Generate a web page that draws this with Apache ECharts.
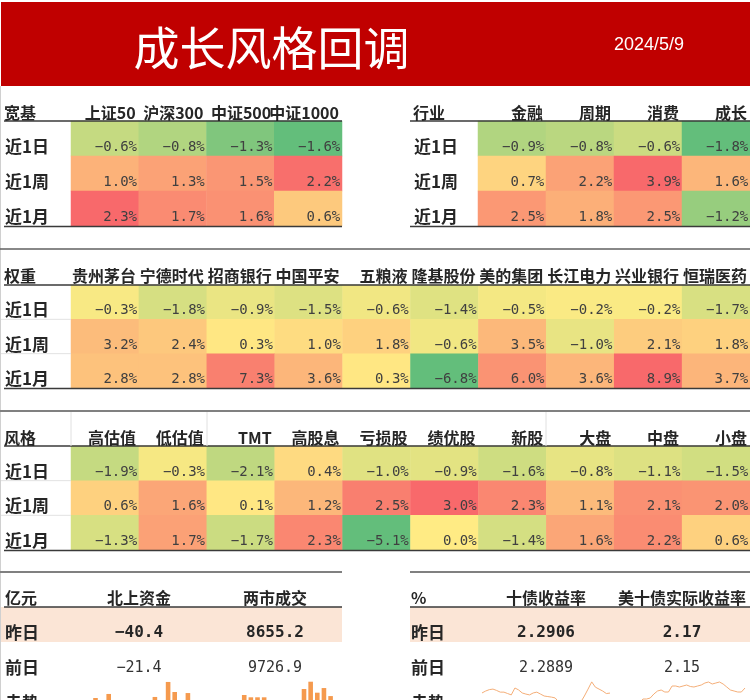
<!DOCTYPE html>
<html><head><meta charset="utf-8">
<script src="https://cdn.jsdelivr.net/npm/echarts@6/dist/echarts.min.js"></script>
<style>html,body{margin:0;padding:0;background:#fff}#c{width:750px;height:700px}</style>
</head><body><div id="c"></div>
<script>
// ---------- data ----------
const titleText = '成长风格回调';
const dateText = '2024/5/9';
const periods = ['近1日', '近1周', '近1月'];

const broadCats = ['上证50', '沪深300', '中证500', '中证1000'];
const broadVals = [[-0.6, -0.8, -1.3, -1.6], [1.0, 1.3, 1.5, 2.2], [2.3, 1.7, 1.6, 0.6]];

const industryCats = ['金融', '周期', '消费', '成长'];
const industryVals = [[-0.9, -0.8, -0.6, -1.8], [0.7, 2.2, 3.9, 1.6], [2.5, 1.8, 2.5, -1.2]];

const weightCats = ['贵州茅台', '宁德时代', '招商银行', '中国平安', '五粮液', '隆基股份', '美的集团', '长江电力', '兴业银行', '恒瑞医药'];
const weightVals = [
  [-0.3, -1.8, -0.9, -1.5, -0.6, -1.4, -0.5, -0.2, -0.2, -1.7],
  [3.2, 2.4, 0.3, 1.0, 1.8, -0.6, 3.5, -1.0, 2.1, 1.8],
  [2.8, 2.8, 7.3, 3.6, 0.3, -6.8, 6.0, 3.6, 8.9, 3.7]];

const styleCats = ['高估值', '低估值', 'TMT', '高股息', '亏损股', '绩优股', '新股', '大盘', '中盘', '小盘'];
const styleVals = [
  [-1.9, -0.3, -2.1, 0.4, -1.0, -0.9, -1.6, -0.8, -1.1, -1.5],
  [0.6, 1.6, 0.1, 1.2, 2.5, 3.0, 2.3, 1.1, 2.1, 2.0],
  [-1.3, 1.7, -1.7, 2.3, -5.1, 0.0, -1.4, 1.6, 2.2, 0.6]];

const flowUnit = '亿元';
const flowCats = ['北上资金', '两市成交'];
const flowYesterday = [-40.4, 8655.2];
const flowPrev = [-21.4, 9726.9];
const bondUnit = '%';
const bondCats = ['十债收益率', '美十债实际收益率'];
const bondYesterday = [2.2906, 2.17];
const bondPrev = [2.2889, 2.15];
const summaryRows = ['昨日', '前日', '走势'];

const northTrend = [40, 15, 67, -12, 22, -25, 8, -18, 20, 47, 12, 147, 80, 18, 73, -21.4, -40.4];
const turnoverTrend = [8800, 8493, 8493, 8493, 7900, 7600, 7300, 7700, 8000, 9600, 10573, 9107, 9726.9, 8655.2];
const cgbTrend = [2.291, 2.298, 2.303, 2.305, 2.300, 2.294, 2.294, 2.289, 2.284, 2.309, 2.302, 2.291, 2.287, 2.284, 2.291, 2.294, 2.287, 2.280, 2.278, 2.276, 2.273, 2.258, 2.244, 2.229, 2.222, 2.225, 2.236, 2.258, 2.280, 2.305, 2.331, 2.312, 2.305, 2.298, 2.2889, 2.2906];
const tipsTrend = [2.05, 2.07, 2.09, 2.115, 2.115, 2.12, 2.14, 2.155, 2.16, 2.15, 2.15, 2.18, 2.18, 2.175, 2.18, 2.185, 2.1775, 2.175, 2.18, 2.185, 2.195, 2.20, 2.19, 2.195, 2.20, 2.19, 2.175, 2.16, 2.155, 2.15, 2.15, 2.17];

// ---------- helpers ----------
const GREEN = [99, 190, 123], YELLOW = [255, 235, 132], RED = [248, 105, 107];
function mix(a, b, t) { return 'rgb(' + a.map((c, i) => Math.round(c + (b[i] - c) * t)).join(',') + ')'; }
function colorFor(v, mn, mx) {
  if (v < 0) return mix(YELLOW, GREEN, mn < 0 ? v / mn : 0);
  return mix(YELLOW, RED, mx > 0 ? v / mx : 0);
}
const CJK = '"Noto Sans CJK SC", sans-serif';
const MONO = '"DejaVu Sans Mono", monospace';
const TXT = '#262626';

const chart = echarts.init(document.getElementById('c'), null, { renderer: 'canvas' });

const grids = [], xAxes = [], yAxes = [], series = [], graphics = [];

function text(str, x, y, font, align, color) {
  graphics.push({
    type: 'text', z: 20, silent: true,
    style: { text: str, x: x, y: y, font: font, textAlign: align || 'left', textVerticalAlign: 'middle', fill: color || TXT }
  });
}
function hline(x1, x2, y, color, w) {
  graphics.push({ type: 'line', z: 15, silent: true, shape: { x1: x1, y1: y, x2: x2, y2: y }, style: { stroke: color, lineWidth: w } });
}
function vline(x, y1, y2, color, w) {
  graphics.push({ type: 'line', z: 15, silent: true, shape: { x1: x, y1: y1, x2: x, y2: y2 }, style: { stroke: color, lineWidth: w } });
}
function rect(x, y, w, h, color, z) {
  graphics.push({ type: 'rect', z: z || 1, silent: true, shape: { x: x, y: y, width: w, height: h }, style: { fill: color } });
}

// header band
rect(1, 2, 749, 84, '#C00000', 1);
text(titleText, 271.5, 48, 'normal 46px ' + CJK, 'center', '#ffffff');
text(dateText, 614, 45, 'normal 18px "Liberation Sans", Arial, sans-serif', 'left', '#ffffff');
vline(0.5, 86, 700, '#d0d0d0', 1);

// heat tables
const tables = [
  { name: '宽基', cats: broadCats, vals: broadVals, left: 71, width: 271, top: 121, height: 105, headY: 113, nameX: 4, lineX1: 4, lineX2: 342 },
  { name: '行业', cats: industryCats, vals: industryVals, left: 478, width: 272, top: 121, height: 105, headY: 113, nameX: 413, lineX1: 410, lineX2: 750 },
  { name: '权重', cats: weightCats, vals: weightVals, left: 71, width: 679, top: 285, height: 103, headY: 275.5, nameX: 4, lineX1: 4, lineX2: 750 },
  { name: '风格', cats: styleCats, vals: styleVals, left: 71, width: 679, top: 446, height: 104, headY: 437.5, nameX: 4, lineX1: 4, lineX2: 750 }
];

tables.forEach((t, k) => {
  const flat = t.vals.flat();
  const mn = Math.min.apply(null, flat), mx = Math.max.apply(null, flat);
  grids.push({ left: t.left, top: t.top, width: t.width, height: t.height });
  xAxes.push({ type: 'category', gridIndex: k, data: t.cats, show: false });
  yAxes.push({ type: 'category', gridIndex: k, data: periods, inverse: true, show: false });
  const data = [];
  t.vals.forEach((row, j) => row.forEach((v, i) => {
    data.push({ value: [i, j, v], itemStyle: { color: colorFor(v, mn, mx) } });
  }));
  series.push({
    type: 'heatmap', xAxisIndex: k, yAxisIndex: k, data: data, silent: true,
    itemStyle: { borderWidth: 0 },
    emphasis: { disabled: true },
    label: {
      show: true, position: 'insideBottomRight', distance: 2,
      formatter: p => (p.value[2] < 0 ? '−' : '') + Math.abs(p.value[2]).toFixed(1) + '%',
      color: '#404040', fontFamily: 'DejaVu Sans Mono', fontSize: 14
    }
  });
  const cw = t.width / t.cats.length, rh = t.height / periods.length;
  text(t.name, t.nameX, t.headY, 'bold 16px ' + CJK, 'left');
  t.cats.forEach((c, i) => text(c, t.left + cw * (i + 1) - 3, t.headY, 'bold 16px ' + CJK, 'right'));
  periods.forEach((p, j) => text(p, t.nameX + 1, t.top + rh * (j + 1) - 9.5, 'bold 17px ' + CJK, 'left'));
  hline(t.lineX1, t.lineX2, t.top, '#3a3a3a', 1.5);
  hline(t.lineX1, t.lineX2, t.top + t.height + 0.5, '#3a3a3a', 1.5);
  if (k >= 2) {
    for (let j = 1; j < periods.length; j++) hline(1, t.left, t.top + rh * j, '#e2e2e2', 1);
  }
});

// separator lines
hline(0, 750, 249, '#606060', 1.5);
hline(0, 750, 411, '#808080', 2);
vline(71, 412, 446, '#e0e0e0', 1);
vline(207, 412, 446, '#e0e0e0', 1);
vline(546, 412, 446, '#e0e0e0', 1);

// summary tables
function summary(unit, cats, yest, prev, x0, x1, centers) {
  const bx = x0 === 4 ? 0 : x0;
  hline(bx, x1, 572, '#808080', 2);
  rect(bx, 607, x1 - bx, 35, '#FBE5D6', 1);
  hline(x0, x1, 607, '#3a3a3a', 1.5);
  text(unit, x0 + 1, 598, 'bold 16px ' + CJK, 'left');
  cats.forEach((c, i) => text(c, centers[i], 598, 'bold 16px ' + CJK, 'center'));
  text(summaryRows[0], x0 + 1, 633, 'bold 17px ' + CJK, 'left');
  text(summaryRows[1], x0 + 1, 668, 'bold 17px ' + CJK, 'left');
  text(summaryRows[2], x0 + 1, 703, 'bold 17px ' + CJK, 'left');
  yest.forEach((v, i) => text(String(v).replace('-', '−'), centers[i], 633, 'bold 16px ' + MONO, 'center', '#262626'));
  prev.forEach((v, i) => text(String(v).replace('-', '−'), centers[i], 668, 'normal 15px ' + MONO, 'center', '#333333'));
}
summary(flowUnit, flowCats, flowYesterday, flowPrev, 4, 342, [139, 275]);
summary(bondUnit, bondCats, bondYesterday, bondPrev, 410, 750, [546, 682]);

// sparklines (grid ends at the picture's bottom edge; lower values are clipped, as in the reference)
function spark(kind, data, left, width, top, height, min, max) {
  const k = grids.length;
  grids.push({ left: left, top: top, width: width, height: height });
  xAxes.push({ type: 'category', gridIndex: k, data: data.map((_, i) => String(i + 1)), show: false, boundaryGap: kind === 'bar' });
  yAxes.push({ type: 'value', gridIndex: k, min: min, max: max, show: false, scale: true });
  if (kind === 'bar') {
    series.push({ type: 'bar', xAxisIndex: k, yAxisIndex: k, data: data, barWidth: 4.6, clip: true, silent: true, itemStyle: { color: '#F59A4E' } });
  } else {
    series.push({ type: 'line', xAxisIndex: k, yAxisIndex: k, data: data, symbol: 'none', clip: true, silent: true, lineStyle: { color: '#F4AE78', width: 1 } });
  }
}
spark('bar', northTrend, 92.2, 112.2, 680, 20, 26.7, 160);
spark('bar', turnoverTrend, 240.9, 93, 680, 20, 8133, 10800);
spark('line', cgbTrend, 482, 128, 678, 22, 2.2656, 2.345);
spark('line', tipsTrend, 632, 113, 678, 22, 2.11, 2.22);

chart.setOption({
  animation: false,
  backgroundColor: '#ffffff',
  grid: grids, xAxis: xAxes, yAxis: yAxes, series: series,
  graphic: { elements: graphics }
});
</script></body></html>
